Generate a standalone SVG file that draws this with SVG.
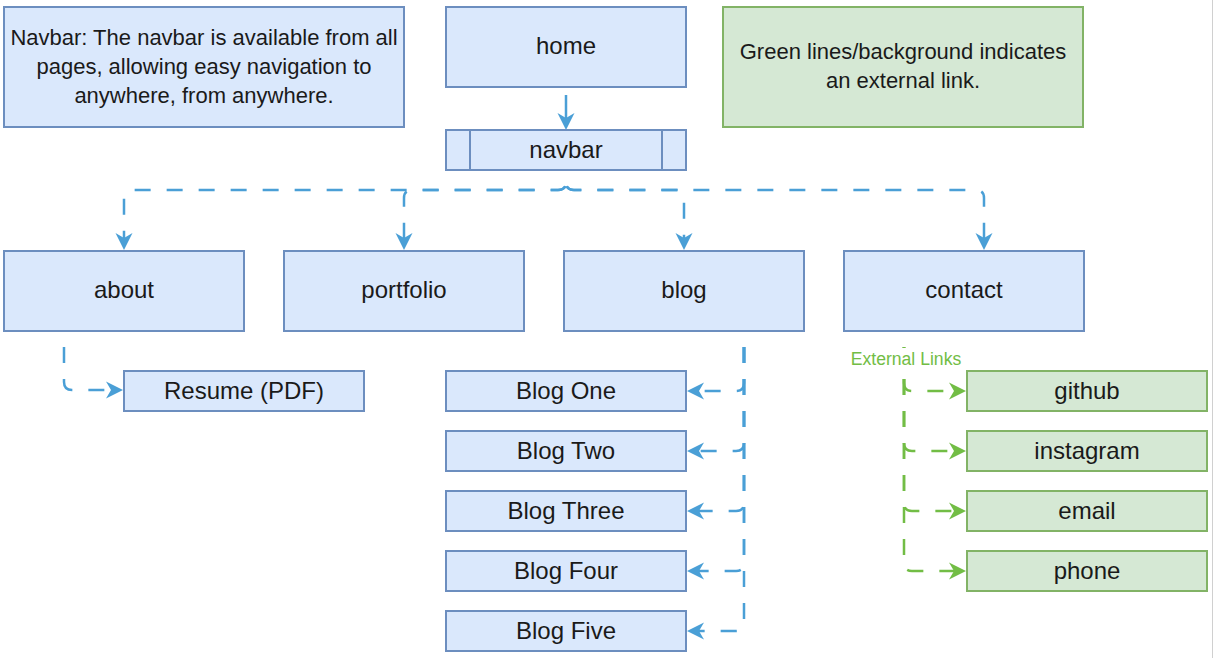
<svg xmlns="http://www.w3.org/2000/svg" width="1214" height="658" viewBox="0 0 1214 658">
<style>
.b{fill:#dae8fc;stroke:#6c8ebf;stroke-width:2}
.g{fill:#d5e8d4;stroke:#82b366;stroke-width:2}
.t{font-family:"Liberation Sans",Arial,sans-serif;font-size:24px;fill:#1a1a1a;text-anchor:middle}
.n{font-family:"Liberation Sans",Arial,sans-serif;font-size:22px;fill:#1a1a1a;text-anchor:middle}
.e{fill:none;stroke:#4a9fd6;stroke-width:2.5;stroke-dasharray:16 16;stroke-dashoffset:16;marker-end:url(#ab)}
.eg{fill:none;stroke:#72bd45;stroke-width:2.5;stroke-dasharray:16 16;stroke-dashoffset:16;marker-end:url(#ag)}
</style>
<defs>
<marker id="ab" markerUnits="userSpaceOnUse" markerWidth="20" markerHeight="20" viewBox="-18 -10 20 20" refX="-12" refY="0" orient="auto"><path d="M0,0 L-17,-8.5 L-12,0 L-17,8.5 Z" fill="#4a9fd6"/></marker>
<marker id="ag" markerUnits="userSpaceOnUse" markerWidth="20" markerHeight="20" viewBox="-18 -10 20 20" refX="-12" refY="0" orient="auto"><path d="M0,0 L-17,-8.5 L-12,0 L-17,8.5 Z" fill="#72bd45"/></marker>
</defs>
<rect width="1214" height="658" fill="#ffffff"/>
<line x1="1212.5" y1="0" x2="1212.5" y2="658" stroke="#d0d0d0" stroke-width="1"/>

<g id="connectors">
<path d="M566,95 V118" fill="none" stroke="#4a9fd6" stroke-width="2.5" marker-end="url(#ab)"/>
<path class="e" d="M566,170 V182 Q566,190 558,190 H132 Q124,190 124,198 V238"/>
<path class="e" d="M566,170 V182 Q566,190 558,190 H412 Q404,190 404,198 V238"/>
<path class="e" d="M566,170 V182 Q566,190 574,190 H676 Q684,190 684,198 V238"/>
<path class="e" d="M566,170 V182 Q566,190 574,190 H976 Q984,190 984,198 V238"/>
<path class="e" d="M64,331 V382 Q64,390 72,390 H111"/>
<path class="e" d="M744,331 V383 Q744,391 736,391 H699"/>
<path class="e" d="M744,331 V443 Q744,451 736,451 H699"/>
<path class="e" d="M744,331 V503 Q744,511 736,511 H699"/>
<path class="e" d="M744,331 V563 Q744,571 736,571 H699"/>
<path class="e" d="M744,331 V623 Q744,631 736,631 H699"/>
<path class="eg" d="M904,331 V383 Q904,391 912,391 H954"/>
<path class="eg" d="M904,331 V443 Q904,451 912,451 H954"/>
<path class="eg" d="M904,331 V503 Q904,511 912,511 H954"/>
<path class="eg" d="M904,331 V563 Q904,571 912,571 H954"/>
<rect x="849" y="348" width="114" height="21" fill="#ffffff"/>
<text x="906" y="365" font-family="'Liberation Sans',Arial,sans-serif" font-size="17.6" fill="#72bd45" text-anchor="middle">External Links</text>
</g>

<g id="note-navbar"><rect class="b" x="4" y="7" width="400" height="120"/>
<text class="n" x="204" y="45">Navbar: The navbar is available from all</text>
<text class="n" x="204" y="74">pages, allowing easy navigation to</text>
<text class="n" x="204" y="103">anywhere, from anywhere.</text></g>
<g id="note-green"><rect class="g" x="723" y="7" width="360" height="120"/>
<text class="n" x="903" y="59">Green lines/background indicates</text>
<text class="n" x="903" y="88">an external link.</text></g>

<g id="home"><rect class="b" x="446" y="7" width="240" height="80"/><text class="t" x="566" y="54">home</text></g>
<g id="navbar"><rect class="b" x="446" y="130" width="240" height="40"/><line x1="470" y1="130" x2="470" y2="170" stroke="#6c8ebf" stroke-width="2"/><line x1="662" y1="130" x2="662" y2="170" stroke="#6c8ebf" stroke-width="2"/><text class="t" x="566" y="158">navbar</text></g>

<g id="about"><rect class="b" x="4" y="251" width="240" height="80"/><text class="t" x="124" y="298">about</text></g>
<g id="portfolio"><rect class="b" x="284" y="251" width="240" height="80"/><text class="t" x="404" y="298">portfolio</text></g>
<g id="blog"><rect class="b" x="564" y="251" width="240" height="80"/><text class="t" x="684" y="298">blog</text></g>
<g id="contact"><rect class="b" x="844" y="251" width="240" height="80"/><text class="t" x="964" y="298">contact</text></g>

<g id="resume"><rect class="b" x="124" y="371" width="240" height="40"/><text class="t" x="244" y="399">Resume (PDF)</text></g>

<g id="blog-one"><rect class="b" x="446" y="371" width="240" height="40"/><text class="t" x="566" y="399">Blog One</text></g>
<g id="blog-two"><rect class="b" x="446" y="431" width="240" height="40"/><text class="t" x="566" y="459">Blog Two</text></g>
<g id="blog-three"><rect class="b" x="446" y="491" width="240" height="40"/><text class="t" x="566" y="519">Blog Three</text></g>
<g id="blog-four"><rect class="b" x="446" y="551" width="240" height="40"/><text class="t" x="566" y="579">Blog Four</text></g>
<g id="blog-five"><rect class="b" x="446" y="611" width="240" height="40"/><text class="t" x="566" y="639">Blog Five</text></g>

<g id="github"><rect class="g" x="967" y="371" width="240" height="40"/><text class="t" x="1087" y="399">github</text></g>
<g id="instagram"><rect class="g" x="967" y="431" width="240" height="40"/><text class="t" x="1087" y="459">instagram</text></g>
<g id="email"><rect class="g" x="967" y="491" width="240" height="40"/><text class="t" x="1087" y="519">email</text></g>
<g id="phone"><rect class="g" x="967" y="551" width="240" height="40"/><text class="t" x="1087" y="579">phone</text></g>
</svg>
